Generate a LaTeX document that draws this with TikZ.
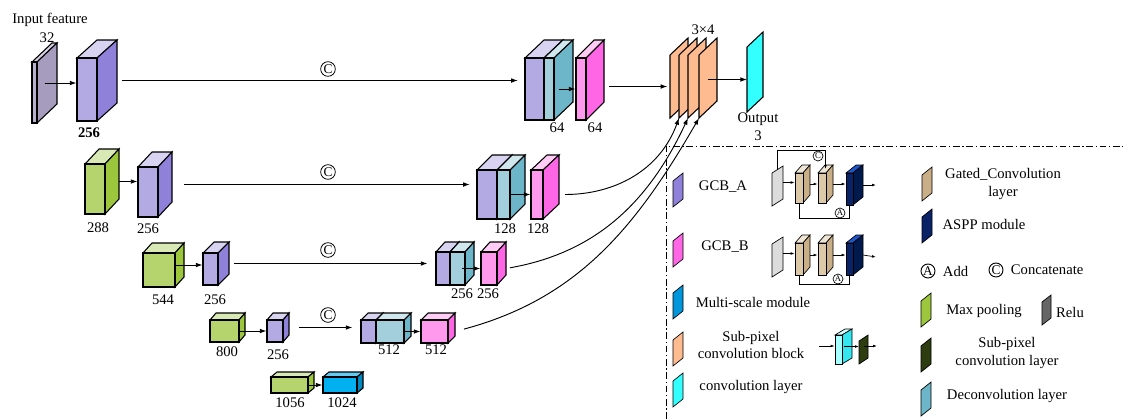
\documentclass[tikz,border=0pt]{standalone}
\usepackage{fontspec}
\setmainfont{Liberation Serif}
\usepackage{tikz}
\usetikzlibrary{arrows.meta, positioning, calc, fit}

\definecolor{cin}{HTML}{B8B0CF}\definecolor{cinS}{HTML}{A69DBE}\definecolor{cinT}{HTML}{D6D1E3}
\definecolor{cpur}{HTML}{B3A9E3}\definecolor{cpurS}{HTML}{8F80D9}\definecolor{cpurT}{HTML}{D8D3F1}
\definecolor{cdec}{HTML}{A3CFDC}\definecolor{cdecS}{HTML}{6DB5C9}\definecolor{cdecT}{HTML}{D0E7EE}
\definecolor{cpink}{HTML}{FF99EE}\definecolor{cpinkS}{HTML}{FF66E6}\definecolor{cpinkT}{HTML}{FFCCF6}
\definecolor{cgrn}{HTML}{B5D46E}\definecolor{cgrnS}{HTML}{9CC63C}\definecolor{cgrnT}{HTML}{D9E9B6}
\definecolor{cms}{HTML}{00B0F0}\definecolor{cmsS}{HTML}{0088C0}\definecolor{cmsT}{HTML}{60CCF4}
\definecolor{ctan}{HTML}{DCC9A8}\definecolor{ctanS}{HTML}{C9AF88}\definecolor{ctanT}{HTML}{EFE5D4}
\definecolor{cnav}{HTML}{0A2266}\definecolor{cnavS}{HTML}{001A4D}\definecolor{cnavT}{HTML}{1E55C8}
\definecolor{ccy}{HTML}{A8FFFF}\definecolor{ccyS}{HTML}{33E6F0}\definecolor{ccyT}{HTML}{D4FFFF}
\definecolor{corg}{HTML}{FFBB90}
\definecolor{cout}{HTML}{33FFFF}
\definecolor{cgray}{HTML}{DCDCDC}
\definecolor{cdg}{HTML}{2E3D10}
\definecolor{crelu}{HTML}{666666}
\definecolor{cmsw}{HTML}{0096DC}

\tikzstyle{arrow} = [-{Latex[length=5pt,width=3.5pt]}, line width=0.7pt]
\tikzstyle{tiny} = [-{Latex[length=3pt,width=2pt]}, line width=0.5pt]
\tikzstyle{thinline} = [-, line width=0.5pt]
\tikzstyle{cat} = [circle, draw, line width=0.6pt, inner sep=0pt, minimum size=11pt, font=\fontsize{10}{10}\selectfont]
\tikzstyle{opsmall} = [circle, draw, fill=white, line width=0.5pt, inner sep=0pt, minimum size=7.5pt, font=\fontsize{6.5}{6.5}\selectfont]
\tikzstyle{opbig} = [circle, draw, line width=0.7pt, inner sep=0pt, minimum size=10.5pt, font=\fontsize{10}{10}\selectfont]
\tikzstyle{sep} = [line width=0.7pt, dash pattern=on 5pt off 2pt on 1pt off 2pt]

% name, x, y, width, height, dx, dy, colour
\newcommand{\cube}[8]{%
  \filldraw[fill=#8T] (#2,#3) -- ++(#6,-#7) -- ++(#4,0) -- ++(-#6,#7) -- cycle;
  \filldraw[fill=#8S] (#2+#4,#3) -- ++(#6,-#7) -- ++(0,#5) -- ++(-#6,#7) -- cycle;
  \coordinate (#1-nw) at (#2,#3);
  \coordinate (#1-se) at (#2+#4,#3+#5);
  \node[fit=(#1-nw)(#1-se), inner sep=0pt, draw, fill=#8] (#1) {};
  \coordinate (#1-c) at (#2+#4/2+#6/2,#3+#5/2-#7/2);
  \coordinate (#1-e) at (#2+#4+#6,#3+#5/2-#7/2);
  \coordinate (#1-t) at (#2+#4/2+#6/2,#3-#7/2);
}
% name, x, y, width, height, skew, colour
\newcommand{\plane}[7]{%
  \filldraw[fill=#7] (#2,#3) -- ++(#4,-#6) -- ++(0,#5) -- ++(-#4,#6) -- cycle;
  \coordinate (#1-w) at (#2,#3+#5/2);
  \coordinate (#1-e) at (#2+#4,#3+#5/2-#6);
  \coordinate (#1-c) at (#2+#4/2,#3+#5/2-#6/2);
  \coordinate (#1-n) at (#2+#4/2,#3-#6/2);
  \coordinate (#1-sw) at (#2,#3+#5);
}

\begin{document}
\begin{tikzpicture}[x=0.75pt, y=-0.75pt, line width=0.8pt, font=\fontsize{11}{13}\selectfont]
        \useasboundingbox (0,0) rectangle (1123,419);

        % Row 1
        \cube{in0}{32}{62}{5}{61}{20}{19}{cin}
        \cube{c1}{77}{58}{20}{63}{20}{18}{cpur}
        \node (tin) at (50,20) {Input feature};
        \node (t32) at (47,38) {32};
        \node (t256a) at (89,133) {\textbf{256}};
        \draw[arrow] (in0-c) -- (in0-c -| c1.west);

        \cube{p1}{525}{58}{19}{62}{19}{18}{cpur}
        \cube{b1}{544}{58}{10}{62}{19}{18}{cdec}
        \cube{k1}{576}{58}{10}{62}{18}{18}{cpink}
        \node (t64a) at (557,128) {64};
        \node (t64b) at (595,128) {64};
        \draw[arrow] (b1-c |- k1.west) -- (k1.west);
        \draw[arrow, shorten <=3.75pt, shorten >=5pt] (c1-e) -- (c1-e -| p1.west);
        \node[cat] (cat1) at (328,69) {C};

        % Sub-pixel output
        \plane{o1}{670}{55}{18}{63}{17}{corg}
        \plane{o2}{679}{55}{18}{63}{17}{corg}
        \plane{o3}{688}{55}{18}{63}{17}{corg}
        \plane{o4}{699}{55}{18}{63}{17}{corg}
        \node (t34) at (703,30) {3×4};
        \plane{out}{747}{47}{16}{65}{15}{cout}
        \node (tout) at (758,119) {Output};
        \node (tout3) at (758,136) {3};
        \draw[arrow, shorten <=3.75pt, shorten >=2pt] (k1-e |- o1-w) -- (o1-w);
        \draw[arrow] (o4-c |- out-w) -- (out-w);

        % Row 2
        \cube{g2}{85}{164}{20}{50}{14}{15}{cgrn}
        \cube{c2}{138}{167}{20}{50}{14}{15}{cpur}
        \node (t288) at (98,228) {288};
        \node (t256b) at (148,229) {256};
        \draw[arrow] (g2-e) -- (g2-e -| c2.west);
        \cube{p2}{477}{170}{20}{49}{15}{15}{cpur}
        \cube{b2}{497}{170}{13}{49}{15}{15}{cdec}
        \cube{k2}{531}{170}{12}{49}{16}{15}{cpink}
        \node (t128a) at (505,229) {128};
        \node (t128b) at (538,229) {128};
        \draw[arrow] (b2-c |- k2.west) -- (k2.west);
        \draw[arrow, shorten <=9pt, shorten >=5pt] (c2-e) -- (c2-e -| p2.west);
        \node[cat] (cat2) at (328,172) {C};

        % Row 3
        \cube{g3}{143}{253}{32}{34}{9}{10}{cgrn}
        \cube{c3}{203}{253}{15}{32}{11}{11}{cpur}
        \node (t544) at (163,300) {544};
        \node (t256c) at (215,300) {256};
        \draw[arrow] (g3.east |- g3-c) -- (g3-c -| c3.west);
        \cube{p3}{436}{252}{14}{33}{9}{10}{cpur}
        \cube{b3}{450}{252}{15}{33}{9}{10}{cdec}
        \cube{k3}{481}{252}{16}{33}{9}{10}{cpink}
        \node (t256d) at (462,294) {256};
        \node (t256e) at (488,294) {256};
        \draw[arrow] (b3-c |- k3.west) -- (k3.west);
        \draw[arrow, shorten <=3.75pt, shorten >=6pt] (c3-e) -- (c3-e -| p3.west);
        \node[cat] (cat3) at (328,250) {C};

        % Row 4
        \cube{g4}{210}{320}{29}{22}{6}{7}{cgrn}
        \cube{c4}{267}{320}{16}{22}{6}{7}{cpur}
        \node (t800) at (227,352) {800};
        \node (t256f) at (278,355) {256};
        \draw[arrow] (g4.east) -- (g4.east -| c4.west);
        \cube{p4}{361}{320}{15}{23}{7}{7}{cpur}
        \cube{b4}{376}{320}{28}{23}{7}{7}{cdec}
        \cube{k4}{421}{320}{27}{23}{7}{7}{cpink}
        \node (t512a) at (389,350) {512};
        \node (t512b) at (436,350) {512};
        \draw[arrow] (b4.east |- k4.west) -- (k4.west);
        \draw[arrow, shorten <=7.5pt, shorten >=6pt] (c4-e) -- (c4-e -| p4.west);
        \node[cat] (cat4) at (328,315) {C};

        % Row 5
        \cube{g5}{271}{377}{37}{16}{6}{5}{cgrn}
        \cube{m5}{323}{377}{34}{16}{6}{5}{cms}
        \node (t1056) at (290,403) {1056};
        \node (t1024) at (342,403) {1024};
        \draw[arrow] (g5.east) -- (m5.west);

        % Skip curves to sub-pixel block
        \draw[arrow, shorten <=4.5pt] (k2-e |- k2.west) to[out=0, in=250] (o2-sw);
        \draw[arrow, shorten <=3pt] (k3-e |- k3.west) to[out=10, in=245] (o3-sw);
        \draw[arrow, shorten <=7pt] (k4-e |- k4.west) to[out=15, in=240] (o4-sw);

        % Legend
        \draw[sep] (666,419) -- (666,146) -- (1123,146);

        \begin{scope}[line width=0.5pt]
        % GCB_A
        \plane{swa}{673}{181}{10}{26}{8}{cpurS}
        \node (tgcba) at (723,187) {GCB\_A};
        \plane{ga}{772}{173}{11}{33}{7}{cgray}
        \cube{t1a}{795}{173}{8}{30}{7}{8}{ctan}
        \cube{t2a}{818}{173}{8}{30}{7}{8}{ctan}
        \cube{na}{846}{173}{7}{32}{10}{8}{cnav}
        \coordinate (outa) at (876,185);
        \node[opsmall] (cA) at (818,156) {C};
        \node[opsmall] (aA) at (840,213) {A};
        \draw[tiny] (ga-e) -- (ga-e -| t1a.west);
        \draw[tiny] (t1a-e) -- (t1a-e -| t2a.west);
        \draw[tiny] (t2a-e) -- (t2a-e -| na.west);
        \draw[tiny] (na-e) -- (outa);
        \draw[tiny] (ga-n) |- (cA.north) -| (t2a-t);
        \draw[thinline] (t1a.south) |- (aA.south) -| (na.south);

        % GCB_B
        \plane{swb}{673}{241}{10}{26}{8}{cpinkS}
        \node (tgcbb) at (725,247) {GCB\_B};
        \plane{gb}{772}{244}{11}{33}{7}{cgray}
        \cube{t1b}{795}{243}{8}{32}{7}{8}{ctan}
        \cube{t2b}{818}{243}{8}{32}{7}{8}{ctan}
        \cube{nb}{846}{243}{7}{32}{10}{8}{cnav}
        \coordinate (outb) at (876,257);
        \node[opsmall] (aB) at (838,279) {A};
        \draw[tiny] (gb-e) -- (gb-e -| t1b.west);
        \draw[tiny] (t1b-e) -- (t1b-e -| t2b.west);
        \draw[tiny] (t2b-e) -- (t2b-e -| nb.west);
        \draw[tiny] (nb-e) -- (outb);
        \draw[thinline] (t1b.south) |- (aB.south) -| (nb.south);

        % Multi-scale, sub-pixel, convolution
        \plane{swm}{673}{293}{10}{26}{8}{cmsw}
        \node (tms) at (753,302) {Multi-scale module};
        \plane{swo}{673}{340}{10}{26}{8}{corg}
        \node[align=center] (tspb) at (751,345) {Sub-pixel\\convolution block};
        \coordinate (spin) at (819,346);
        \cube{sc}{835}{335}{7}{29}{10}{6}{ccy}
        \plane{dg}{859}{341}{9}{23}{6}{cdg}
        \coordinate (spout) at (877,346);
        \draw[tiny] (spin) -- (spin -| sc.west);
        \draw[tiny] (sc-c) -- (sc-c -| dg-w);
        \draw[tiny] (dg-c |- spout) -- (spout);
        \plane{swc}{673}{381}{10}{26}{8}{cout}
        \node (tconv) at (751,387) {convolution layer};

        % Right column
        \plane{swt}{922}{175}{10}{26}{8}{ctanS}
        \node[align=center] (tgc) at (1003,184) {Gated\_Convolution\\layer};
        \plane{swn}{922}{217}{10}{26}{8}{cnav}
        \node (taspp) at (984,224) {ASPP module};
        \node[opbig] (la) at (928,271) {A};
        \node[right=2pt of la] (tadd) {Add};
        \node[opbig] (lc) at (996,270) {C};
        \node[right=2pt of lc] (tcat) {Concatenate};
        \plane{swp}{921}{301}{10}{26}{8}{cgrnS}
        \node (tmax) at (984,311) {Max pooling};
        \plane{swr}{1042}{302}{9}{23}{7}{crelu}
        \node (trelu) at (1070,312) {Relu};
        \plane{swd}{921}{346}{10}{26}{8}{cdg}
        \node[align=center] (tspl) at (1007,353) {Sub-pixel\\convolution layer};
        \plane{swe}{921}{390}{10}{26}{8}{cdecS}
        \node (tdec) at (1007,396) {Deconvolution layer};
        \end{scope}
    \end{tikzpicture}
\end{document}
